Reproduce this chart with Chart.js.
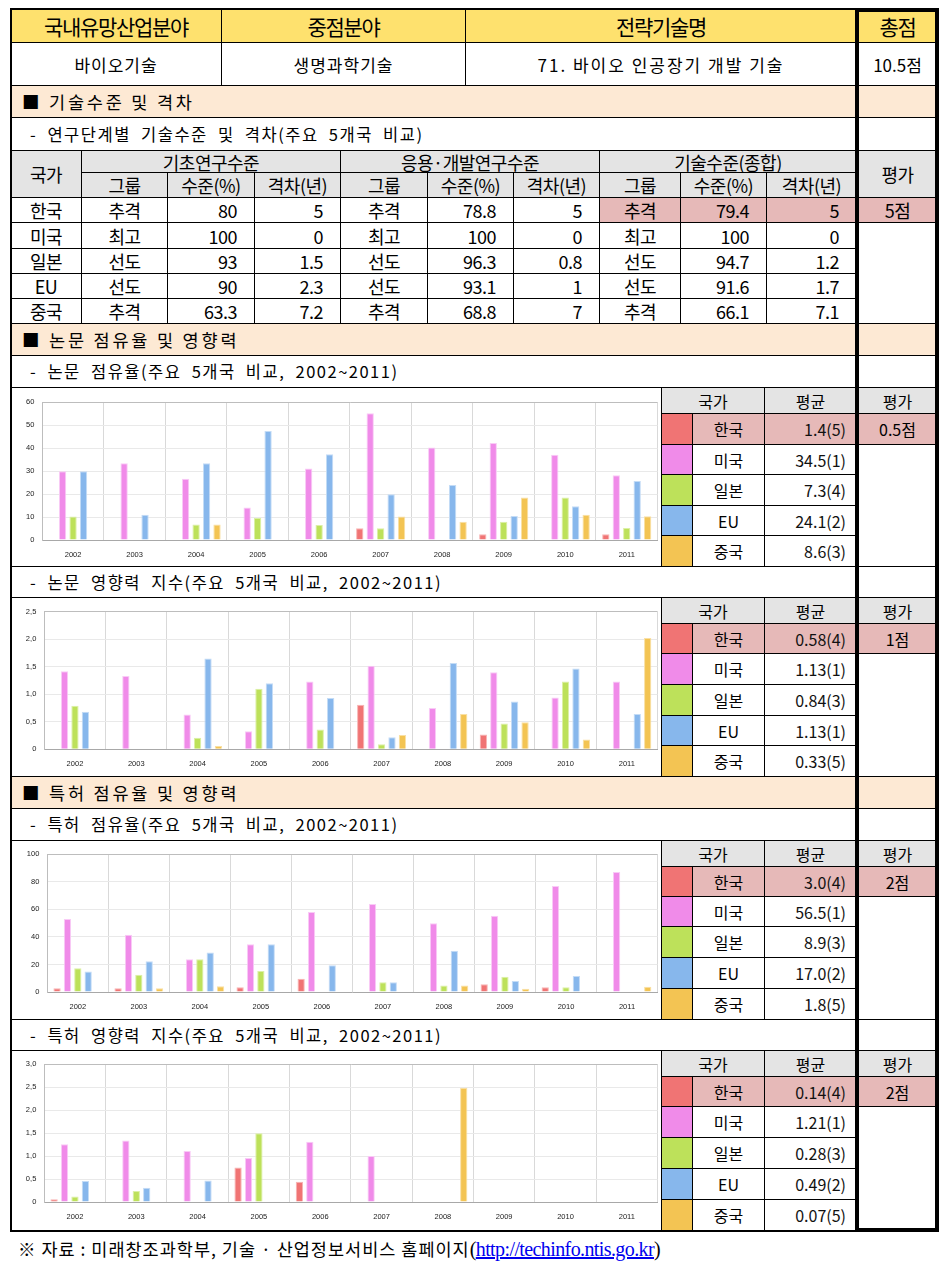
<!DOCTYPE html>
<html>
<head>
<meta charset="utf-8">
<script src="https://cdn.jsdelivr.net/npm/chart.js@4.4.1/dist/chart.umd.min.js"></script>
<style>
body{margin:0;background:#fff;width:952px;height:1266px;position:relative;overflow:hidden;font-family:"Noto Sans CJK KR","Noto Sans",sans-serif;color:#000;}
.c{position:absolute;box-sizing:border-box;border:1px solid #000;display:flex;align-items:center;justify-content:center;white-space:nowrap;line-height:1;}
canvas{position:absolute;}
</style>
</head>
<body>
<script>
// ---- data ----
const years = ["2002","2003","2004","2005","2006","2007","2008","2009","2010","2011"];
const countries = ["한국","미국","일본","EU","중국"];

// 기술수준 표
const basicGroup = ["추격","최고","선도","선도","추격"];
const basicLevel = ["80","100","93","90","63.3"];
const basicGap = ["5","0","1.5","2.3","7.2"];
const appliedGroup = ["추격","최고","선도","선도","추격"];
const appliedLevel = ["78.8","100","96.3","93.1","68.8"];
const appliedGap = ["5","0","0.8","1","7"];
const totalGroup = ["추격","최고","선도","선도","추격"];
const totalLevel = ["79.4","100","94.7","91.6","66.1"];
const totalGap = ["5","0","1.2","1.7","7.1"];

// 논문 점유율
const paperShareKR = [null,null,null,null,null,5.1,null,2.5,null,2.5];
const paperShareUS = [30,33.4,26.7,14.2,31.2,55.2,40.3,42.3,37.1,28.2];
const paperShareJP = [10.2,null,6.8,9.6,6.5,5.1,null,8,18.5,5.2];
const paperShareEU = [30,11,33.4,47.5,37.4,19.9,24,10.5,14.7,25.7];
const paperShareCN = [null,null,6.8,null,null,10.2,8,18.5,11,10.3];
const paperShareAvg = ["1.4(5)","34.5(1)","7.3(4)","24.1(2)","8.6(3)"];

// 논문 영향력 지수
const paperImpactKR = [null,null,null,null,null,0.81,null,0.27,null,null];
const paperImpactUS = [1.42,1.33,0.63,0.33,1.23,1.52,0.75,1.40,0.94,1.23];
const paperImpactJP = [0.79,null,0.21,1.10,0.36,0.09,null,0.47,1.23,null];
const paperImpactEU = [0.68,null,1.65,1.20,0.93,0.22,1.57,0.87,1.47,0.64];
const paperImpactCN = [null,null,0.06,null,null,0.26,0.64,0.49,0.18,2.02];
const paperImpactAvg = ["0.58(4)","1.13(1)","0.84(3)","1.13(1)","0.33(5)"];

// 특허 점유율
const patentShareKR = [2.7,2.7,null,3.4,9.7,null,null,5.6,3.4,null];
const patentShareUS = [53,41.6,23.7,34.6,58.1,63.9,49.9,55.4,77,87.2];
const patentShareJP = [17.2,12.6,23.7,15.3,null,7,4.8,11.1,3.4,null];
const patentShareEU = [14.8,22.3,28.6,34.6,19.4,7,30,8,11.6,null];
const patentShareCN = [null,2.7,4.1,null,null,null,4.8,2.4,null,3.9];
const patentShareAvg = ["3.0(4)","56.5(1)","8.9(3)","17.0(2)","1.8(5)"];

// 특허 영향력 지수
const patentImpactKR = [0.06,null,null,0.75,0.44,null,null,null,null,null];
const patentImpactUS = [1.26,1.34,1.11,0.96,1.31,1.0,null,null,null,null];
const patentImpactJP = [0.12,0.24,null,1.50,null,null,null,null,null,null];
const patentImpactEU = [0.46,0.31,0.47,null,null,null,null,null,null,null];
const patentImpactCN = [null,null,null,null,null,null,2.49,null,null,null];
const patentImpactAvg = ["0.14(4)","1.21(1)","0.28(3)","0.49(2)","0.07(5)"];

// ---- styles ----
const countryColors = ["#f07474","#f08be9","#bde15a","#87b7ec","#f3c453"];
const countryEdges = ["#f8b4b4","#f9cbf6","#dcf0a6","#c4dcf6","#f9e0a4"];
const YELLOW = "#fee16e", BEIGE = "#fde9d4", GRAY = "#e4e4e4", PINK = "#e6b9b8";

function cell(x1,y1,x2,y2,text,o){
  o = o || {};
  const d = document.createElement("div");
  d.className = "c";
  d.style.left = x1+"px";
  d.style.top = y1+"px";
  d.style.width = (x2-x1+1)+"px";
  d.style.height = (y2-y1+1)+"px";
  if(o.bg) d.style.background = o.bg;
  d.style.fontSize = (o.fs||16)+"px";
  if(o.ls!==undefined) d.style.letterSpacing = o.ls+"px";
  if(o.ws!==undefined) d.style.wordSpacing = o.ws+"px";
  if(o.align==="left"){ d.style.justifyContent="flex-start"; d.style.paddingLeft=(o.pad||8)+"px"; }
  if(o.align==="right"){ d.style.justifyContent="flex-end"; d.style.paddingRight=(o.pad||8)+"px"; }
  if(o.color) d.style.color = o.color;
  d.textContent = text || "";
  document.body.appendChild(d);
  return d;
}

// ---- header ----
cell(10,9,221,42,"국내유망산업분야",{bg:YELLOW,fs:21,ls:-1.3});
cell(221,9,465,42,"중점분야",{bg:YELLOW,fs:21,ls:-1.3});
cell(465,9,856,42,"전략기술명",{bg:YELLOW,fs:21,ls:-1.3});
cell(856,9,938,42,"총점",{bg:YELLOW,fs:21,ls:-1.3});
cell(10,42,221,85,"바이오기술",{fs:17,ls:1});
cell(221,42,465,85,"생명과학기술",{fs:17,ls:1});
cell(465,42,856,85,"71. 바이오 인공장기 개발 기술",{fs:17,ls:2});
cell(856,42,938,85,"10.5점",{fs:17,ls:0});

function section(y1,y2,text){
  cell(10,y1,856,y2,text,{bg:BEIGE,fs:17.5,align:"left",pad:11,ls:2.8});
  cell(856,y1,938,y2,"",{bg:BEIGE});
}
function sub(y1,y2,text){
  cell(10,y1,856,y2,text,{fs:16.5,align:"left",pad:19,ls:1.5,ws:5});
  cell(856,y1,938,y2,"");
}

// ---- 기술수준 및 격차 ----
section(85,117,"■ 기술수준 및 격차");
sub(117,150,"- 연구단계별 기술수준 및 격차(주요 5개국 비교)");
const tf = {fs:18,ls:-0.5};
cell(10,150,81,197,"국가",{bg:GRAY,...tf});
cell(81,150,340,172,"기초연구수준",{bg:GRAY,...tf});
cell(340,150,599,172,"응용·개발연구수준",{bg:GRAY,...tf});
cell(599,150,856,172,"기술수준(종합)",{bg:GRAY,...tf});
cell(856,150,938,197,"평가",{bg:GRAY,...tf});
const colX = [81,167,254,340,427,513,599,680,766,856];
const subHeads = ["그룹","수준(%)","격차(년)","그룹","수준(%)","격차(년)","그룹","수준(%)","격차(년)"];
subHeads.forEach((t,i)=>cell(colX[i],172,colX[i+1],197,t,{bg:GRAY,...tf}));
const rowY = [197,222,248,273,298,323];
countries.forEach((name,r)=>{
  const y1 = rowY[r], y2 = rowY[r+1];
  const hl = r===0 ? PINK : null;
  cell(10,y1,81,y2,name,tf);
  const vals = [basicGroup[r],basicLevel[r],basicGap[r],appliedGroup[r],appliedLevel[r],appliedGap[r],totalGroup[r],totalLevel[r],totalGap[r]];
  vals.forEach((v,i)=>{
    const num = i%3!==0;
    cell(colX[i],y1,colX[i+1],y2,v,{...tf,bg:(i>=6?hl:null),align:num?"right":null,pad:17});
  });
});
cell(856,197,938,222,"5점",{bg:PINK,...tf});
cell(856,222,938,323,"");

// ---- chart blocks ----
function fmtTick(step){
  return v => step>=1 ? String(v) : (v===0 ? "0" : v.toFixed(1).replace(".",","));
}

function chartBlock(rows,plotTop,plotBottom,plotLeft,series,avgs,score,yMax,yStep){
  const top = rows[0], bottom = rows[6];
  cell(10,top,661,bottom,"");
  cell(661,rows[0],764,rows[1],"국가",{bg:GRAY,fs:16});
  cell(764,rows[0],856,rows[1],"평균",{bg:GRAY,fs:16});
  cell(856,rows[0],938,rows[1],"평가",{bg:GRAY,fs:16});
  countries.forEach((name,i)=>{
    const y1 = rows[i+1], y2 = rows[i+2];
    const hl = i===0 ? PINK : null;
    cell(661,y1,692,y2,"",{bg:countryColors[i]});
    cell(692,y1,764,y2,name,{bg:hl,fs:16});
    cell(764,y1,856,y2,avgs[i],{bg:hl,fs:16,align:"right",pad:10,color:"#111"});
  });
  cell(856,rows[1],938,rows[2],score,{bg:PINK,fs:16});
  cell(856,rows[2],938,rows[6],"");

  const cv = document.createElement("canvas");
  const w = 649, h = bottom-top-1;
  cv.width = w; cv.height = h;
  cv.style.left = "11px"; cv.style.top = (top+1)+"px";
  document.body.appendChild(cv);
  const tickFont = {family:"Liberation Sans, Arial, sans-serif",size:7.5};
  new Chart(cv,{
    type:"bar",
    data:{
      labels:years,
      datasets:series.map((s,i)=>({
        label:countries[i],
        data:s,
        backgroundColor:countryColors[i],
        borderColor:countryEdges[i],
        borderWidth:1,
        borderSkipped:"bottom",
        barPercentage:0.7,
        categoryPercentage:0.85
      }))
    },
    options:{
      responsive:false,
      animation:false,
      layout:{padding:{top:plotTop-top-1,right:2.5,left:0,bottom:0}},
      plugins:{legend:{display:false},tooltip:{enabled:false}},
      scales:{
        x:{
          grid:{color:"#d9d9d9",drawTicks:false,offset:true},
          border:{color:"#a8a8a8"},
          ticks:{font:tickFont,color:"#222",padding:10,maxRotation:0,autoSkip:false},
          afterFit:s=>{ s.height = bottom-plotBottom; }
        },
        y:{
          min:0,max:yMax,
          ticks:{stepSize:yStep,font:tickFont,color:"#222",padding:8,callback:fmtTick(yStep)},
          grid:{drawTicks:false,color:c=>(c.tick && c.tick.value===yMax) ? "#bdbdbd" : "#e9e9e9"},
          border:{color:"#bdbdbd"},
          afterFit:s=>{ s.width = plotLeft-11; }
        }
      }
    }
  });
}

section(323,355,"■ 논문 점유율 및 영향력");
sub(355,387,"- 논문 점유율(주요 5개국 비교, 2002~2011)");
chartBlock([387,413,444,474,505,535,566],402.3,540,42.3,
  [paperShareKR,paperShareUS,paperShareJP,paperShareEU,paperShareCN],paperShareAvg,"0.5점",60,10);

sub(566,597,"- 논문 영향력 지수(주요 5개국 비교, 2002~2011)");
chartBlock([597,623,653,684,715,745,776],611.7,749.3,44.3,
  [paperImpactKR,paperImpactUS,paperImpactJP,paperImpactEU,paperImpactCN],paperImpactAvg,"1점",2.5,0.5);

section(776,808,"■ 특허 점유율 및 영향력");
sub(808,840,"- 특허 점유율(주요 5개국 비교, 2002~2011)");
chartBlock([840,866,896,926,957,988,1019],854.3,992,47.3,
  [patentShareKR,patentShareUS,patentShareJP,patentShareEU,patentShareCN],patentShareAvg,"2점",100,20);

sub(1019,1050,"- 특허 영향력 지수(주요 5개국 비교, 2002~2011)");
chartBlock([1050,1076,1106,1137,1168,1199,1230],1064.3,1202,44.3,
  [patentImpactKR,patentImpactUS,patentImpactJP,patentImpactEU,patentImpactCN],patentImpactAvg,"2점",3,0.5);

// outer frames
const frame = document.createElement("div");
Object.assign(frame.style,{position:"absolute",left:"10px",top:"8px",width:"929px",height:"1224px",border:"2px solid #000",boxSizing:"border-box"});
document.body.appendChild(frame);
const total = document.createElement("div");
Object.assign(total.style,{position:"absolute",left:"855px",top:"8px",width:"84px",height:"1224px",border:"4px solid #000",boxSizing:"border-box"});
document.body.appendChild(total);

// footer
const foot = document.createElement("div");
Object.assign(foot.style,{position:"absolute",left:"18px",top:"1236px",fontSize:"17.5px",whiteSpace:"nowrap",letterSpacing:"1px"});
foot.innerHTML = '※ 자료 : 미래창조과학부, 기술 · 산업정보서비스 홈페이지<span style="font-family:\'Liberation Serif\',serif;font-size:20px;letter-spacing:-0.6px">(<span style="color:#0000ee;text-decoration:underline">http://techinfo.ntis.go.kr</span>)</span>';
document.body.appendChild(foot);
</script>
</body>
</html>
